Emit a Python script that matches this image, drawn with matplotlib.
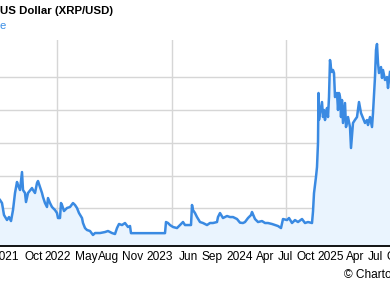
import numpy as np
from matplotlib import pyplot as plt

# ---------------------------------------------------------------
# data: sample position (4-day steps) and XRP/USD close
# ---------------------------------------------------------------
period = [0, 2, 4, 7, 9, 11, 13, 15, 17, 18, 20, 22, 23, 25, 26, 28, 32, 33, 35, 37,
          38, 40, 42, 43, 45, 47, 48, 50, 52, 53, 55, 57, 58, 60, 61, 62, 64, 67, 70, 73,
          75, 77, 79, 82, 83, 85, 87, 90, 93, 95, 100, 105, 108, 112, 115, 117, 119, 122, 125, 128,
          130, 131, 165, 166, 168, 170, 173, 177, 180, 183, 185, 188, 191, 192, 193, 195, 197, 200, 203, 207,
          210, 213, 217, 218, 220, 223, 227, 230, 233, 237, 240, 243, 245, 248, 251, 252, 255, 258, 262, 265,
          268, 272, 275, 278, 281, 283, 287, 289, 292, 295, 298, 302, 305, 308, 312, 313, 314, 315, 316, 317,
          318, 318.5, 319, 320, 322, 323, 324, 325, 326, 327, 328, 329, 330, 331, 332, 333, 334, 335, 337, 338,
          339, 340, 341, 342, 343, 345, 346, 348, 350, 351, 353, 355, 357, 359, 361, 363, 365, 367, 368, 370,
          372, 373, 375, 376, 377, 378, 379, 381, 382, 383, 385, 387, 388, 390]
price = [0.626, 0.580, 0.397, 0.321, 0.366, 0.305, 0.473, 0.733, 0.901, 0.855, 0.779, 1.053, 0.779, 0.733, 0.595, 0.733, 0.809, 0.779, 0.733, 0.885,
         0.916, 0.824, 0.733, 0.672, 0.580, 0.519, 0.656, 0.580, 0.519, 0.504, 0.473, 0.427, 0.351, 0.351, 0.580, 0.550, 0.458, 0.504, 0.519, 0.580,
         0.550, 0.504, 0.427, 0.351, 0.275, 0.198, 0.168, 0.153, 0.092, 0.122, 0.122, 0.137, 0.153, 0.122, 0.107, 0.198, 0.260, 0.244, 0.275, 0.214,
         0.229, 0.120, 0.120, 0.290, 0.275, 0.244, 0.214, 0.198, 0.244, 0.290, 0.244, 0.244, 0.244, 0.550, 0.473, 0.427, 0.366, 0.290, 0.275, 0.244,
         0.275, 0.275, 0.290, 0.366, 0.427, 0.351, 0.382, 0.366, 0.366, 0.336, 0.280, 0.275, 0.290, 0.351, 0.397, 0.443, 0.336, 0.290, 0.305, 0.275,
         0.275, 0.260, 0.244, 0.229, 0.198, 0.336, 0.320, 0.351, 0.275, 0.320, 0.290, 0.336, 0.275, 0.290, 0.275, 0.450, 0.730, 0.850, 0.980, 1.130,
         1.500, 2.260, 1.850, 1.954, 2.122, 1.893, 2.000, 1.847, 1.954, 2.031, 1.893, 2.198, 2.763, 2.641, 2.580, 2.611, 2.565, 2.198, 2.260, 2.000,
         2.260, 2.198, 1.893, 2.153, 1.802, 2.107, 1.740, 1.893, 1.740, 1.420, 1.802, 1.850, 1.893, 2.122, 1.954, 1.878, 1.802, 1.847, 1.771, 1.893,
         1.740, 1.954, 2.504, 2.916, 3.008, 2.718, 2.565, 2.656, 2.489, 2.611, 2.458, 2.504, 2.336, 2.580]

tick_pos = [6, 34, 58, 86, 109, 133, 160, 188, 212, 240, 265, 285, 306, 331, 355, 375, 396]
tick_labels = ['2021', 'Oct', '2022', 'May', 'Aug', 'Nov', '2023', 'Jun', 'Sep', '2024',
               'Apr', 'Jul', 'Oct', '2025', 'Apr', 'Jul', 'Oct']
vgrid_pos = [57, 172, 286]
hgrid_vals = [0.5, 1.0, 1.5, 2.0, 2.5]

line_color = '#3a8ae2'
fill_color = '#eaf4fe'
grid_color = '#d6d6d6'

plt.rcParams['font.family'] = ['Liberation Sans', 'DejaVu Sans']

W, H = 390, 288
fig = plt.figure(figsize=(W/100, H/100), dpi=100)

# plot area runs past both image edges
ax = fig.add_axes([-20/W, 42/H, 430/W, 206/H])
ymin, ymax = -0.076, 3.069
ax.set_xlim(-20, 410)
ax.set_ylim(ymin, ymax)

for v in hgrid_vals:
    ax.axhline(v, color=grid_color, lw=1.0, zorder=0)
for p in vgrid_pos:
    ax.axvline(p, color=grid_color, lw=1.0, zorder=0)

ax.fill_between(period, price, ymin, color=fill_color, lw=0, zorder=1)
ax.plot(period, price, color=line_color, lw=1.8, zorder=2, solid_joinstyle='round')

ax.set_yticks([])
ax.set_xticks(tick_pos, tick_labels)
ax.tick_params(axis='x', length=0, pad=3.5, labelsize=8.6, colors='black')
for s in ['left', 'right', 'top']:
    ax.spines[s].set_visible(False)
ax.spines['bottom'].set_linewidth(1.3)
ax.spines['bottom'].set_color('black')

fig.text(0, 1 - 11/H, 'US Dollar (XRP/USD)', fontsize=8.2, fontweight='bold', va='center', ha='left')
fig.text(0, 1 - 26/H, 'e', fontsize=8.2, color='#3a8ee6', va='center', ha='left')
fig.text(344/W, 1 - 275/H, '\u00a9 Charto', fontsize=8.6, va='center', ha='left')

fig.savefig('out.png', dpi=100)
